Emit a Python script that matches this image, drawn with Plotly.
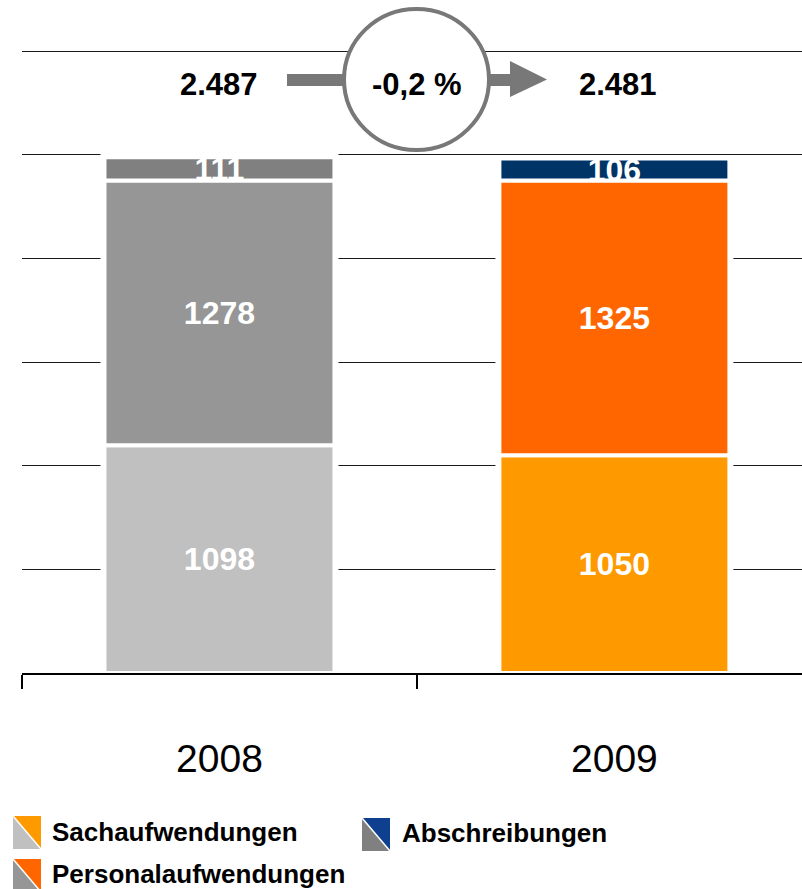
import numpy as np
import plotly.graph_objects as go

# ---- data -------------------------------------------------------------
years = ["2008", "2009"]
sachaufwendungen = [1098, 1050]
personalaufwendungen = [1278, 1325]
abschreibungen = [111, 106]
series_names = ["Sachaufwendungen", "Personalaufwendungen", "Abschreibungen"]
unit_label = "(in Mio. EUR)"

# ---- styling ----------------------------------------------------------
FONT = "Liberation Sans, Arial, Helvetica, sans-serif"
# per series: colour in 2008 (grey scale) and 2009 (highlight)
bar_colors = {
    "Sachaufwendungen": ["#C0C0C0", "#FF9900"],
    "Personalaufwendungen": ["#969696", "#FF6600"],
    "Abschreibungen": ["#808080", "#003366"],
}
legend_icon_colors = {
    "Sachaufwendungen": ("#C0C0C0", "#FF9900"),
    "Personalaufwendungen": ("#969696", "#FF6600"),
    "Abschreibungen": ("#808080", "#0F3F8F"),
}
ARROW_GREY = "#787878"

W, H = 802, 889
ML, MR, MT, MB = 22, 0, 47, 216
PLOT_W = W - ML - MR
PLOT_H = H - MT - MB
PX_PER_UNIT = 622 / 3000          # vertical scale of the value axis
Y_TOP = PLOT_H / PX_PER_UNIT      # a little headroom so the 3000 grid line shows


def px(x):
    """pixel x -> paper x"""
    return (x - ML) / PLOT_W


def py(y):
    """pixel y (from top) -> paper y"""
    return (H - MB - y) / PLOT_H


values = np.array([sachaufwendungen, personalaufwendungen, abschreibungen], dtype=float)
bases = np.vstack([np.zeros(len(years)), np.cumsum(values, axis=0)[:-1]])
totals = values.sum(axis=0)

fig = go.Figure()

# white backdrop behind each stack so the grid lines stop short of the bars
fig.add_trace(go.Bar(
    x=years, y=totals + 16, base=0, width=0.6025,
    marker=dict(color="white", line=dict(width=0)),
    hoverinfo="skip", showlegend=False,
))

for name, vals, base in zip(series_names, values, bases):
    fig.add_trace(go.Bar(
        x=years, y=vals, base=base, width=0.5823, name=name,
        marker=dict(color=bar_colors[name], line=dict(color="white", width=4)),
        text=[f"{int(v)}" for v in vals],
        textposition="inside", insidetextanchor="middle",
        constraintext="none", textangle=0,
        insidetextfont=dict(family=FONT, size=32, color="white", weight="bold"),
        showlegend=False,
    ))

shapes = []
annotations = []

# totals above the bars (category index positions on the x axis)
total_xshift = [0, 4]
for i, tot in enumerate(totals):
    annotations.append(dict(
        x=i, xref="x", y=py(84), yref="paper", xshift=total_xshift[i],
        text=f"{int(tot):,}".replace(",", "."), showarrow=False,
        font=dict(family=FONT, size=31, color="black", weight="bold"),
        xanchor="center", yanchor="middle",
    ))

# change arrow with circle
shapes.append(dict(type="rect", xref="paper", yref="paper",
                   x0=px(287), x1=px(511), y0=py(86), y1=py(74),
                   fillcolor=ARROW_GREY, line=dict(width=0)))
shapes.append(dict(type="path", xref="paper", yref="paper",
                   path=f"M {px(510)},{py(61)} L {px(547)},{py(79.5)} L {px(510)},{py(97)} Z",
                   fillcolor=ARROW_GREY, line=dict(width=0)))
shapes.append(dict(type="circle", xref="paper", yref="paper",
                   x0=px(344), x1=px(489), y0=py(150), y1=py(9),
                   fillcolor="white", line=dict(color=ARROW_GREY, width=4)))
change = (totals[1] / totals[0] - 1) * 100
annotations.append(dict(
    x=px(416.5), xref="paper", y=py(84), yref="paper",
    text=f"{change:.1f} %".replace(".", ","), showarrow=False,
    font=dict(family=FONT, size=31, color="black", weight="bold"),
    xanchor="center", yanchor="middle",
))

# unit line at the top edge
annotations.append(dict(
    x=px(18), xref="paper", y=py(2), yref="paper",
    text=unit_label, showarrow=False,
    font=dict(family=FONT, size=35, color="black"),
    xanchor="left", yanchor="bottom",
))

# legend: split squares + bold labels
legend_pos = {
    "Sachaufwendungen": (13, 816, 50, 832),
    "Personalaufwendungen": (13, 859, 50, 874),
    "Abschreibungen": (362, 818, 400, 833),
}
ICON_W, ICON_H = 28, 33
for name in series_names:
    ix, iy, tx, ty = legend_pos[name]
    grey, col = legend_icon_colors[name]
    x0, x1, y0, y1 = px(ix), px(ix + ICON_W), py(iy), py(iy + ICON_H)
    shapes.append(dict(type="path", xref="paper", yref="paper",
                       path=f"M {x0},{y0} L {x1},{y1} L {x0},{y1} Z",
                       fillcolor=grey, line=dict(width=0)))
    shapes.append(dict(type="path", xref="paper", yref="paper",
                       path=f"M {x0},{y0} L {x1},{y0} L {x1},{y1} Z",
                       fillcolor=col, line=dict(width=0)))
    shapes.append(dict(type="line", xref="paper", yref="paper",
                       x0=x0, y0=y0, x1=x1, y1=y1,
                       line=dict(color="white", width=1.5)))
    annotations.append(dict(
        x=px(tx), xref="paper", y=py(ty), yref="paper",
        text=name, showarrow=False,
        font=dict(family=FONT, size=26, color="black", weight="bold"),
        xanchor="left", yanchor="middle",
    ))

fig.update_layout(
    width=W, height=H,
    margin=dict(l=ML, r=MR, t=MT, b=MB, pad=0),
    barmode="overlay",
    plot_bgcolor="white", paper_bgcolor="white",
    font=dict(family=FONT, color="black"),
    showlegend=False,
    shapes=shapes,
    annotations=annotations,
    xaxis=dict(
        type="category", categoryorder="array", categoryarray=years,
        range=[-0.5, 1.475],
        showline=True, linecolor="black", linewidth=2,
        ticks="outside", tickson="boundaries", ticklen=14, tickwidth=2, tickcolor="black",
        tickfont=dict(family=FONT, size=39, color="black"),
        ticklabelstandoff=50,
        showgrid=False, zeroline=False, fixedrange=True,
    ),
    yaxis=dict(
        range=[0, Y_TOP], dtick=500, tick0=0,
        showgrid=True, gridcolor="#1a1a1a", gridwidth=1,
        showticklabels=False, ticks="", zeroline=False, showline=False,
        fixedrange=True,
    ),
)

fig.write_html("out.html")
